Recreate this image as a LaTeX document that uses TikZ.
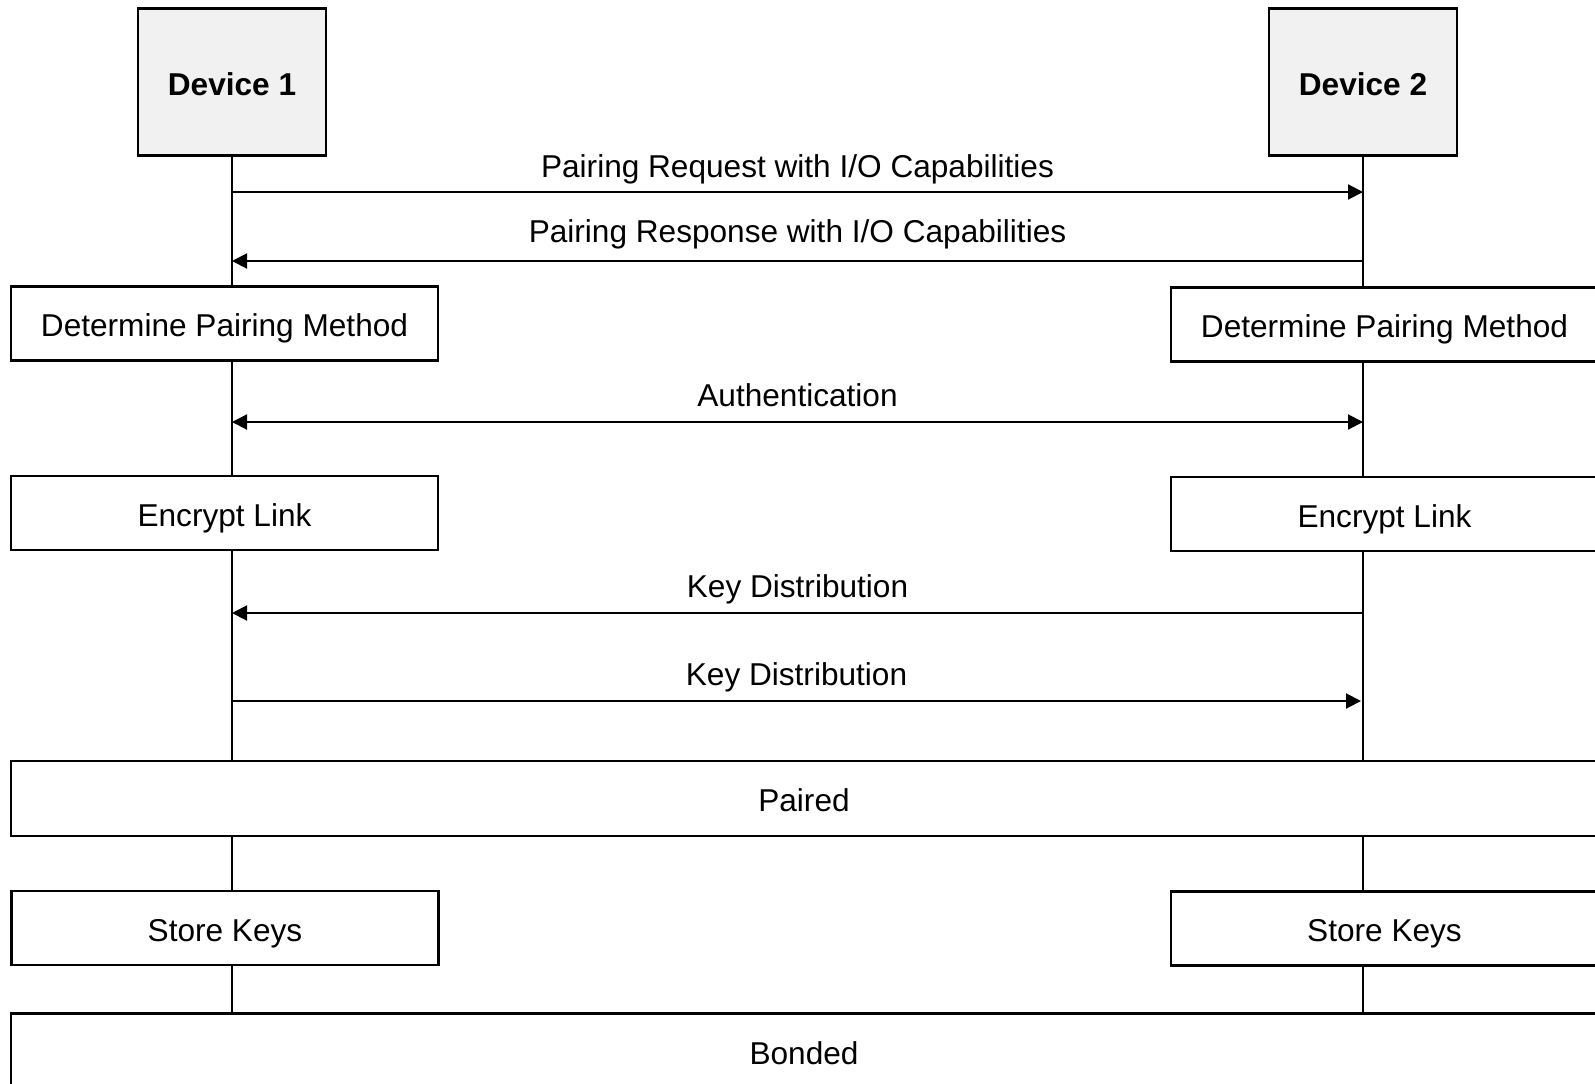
\documentclass[tikz,border=0pt]{standalone}
\usepackage{fontspec}
\setmainfont{Liberation Sans}
\usetikzlibrary{arrows.meta}

\newlength{\du}
\setlength{\du}{0.5pt}
\definecolor{devfill}{rgb}{0.945, 0.945, 0.945}

\tikzset{
  boxtext/.style={text height=13.2pt, text depth=0pt},
  devbox/.style={draw, fill=devfill, line width=1.2pt, minimum width=188\du, minimum height=147\du, boxtext, font=\fontsize{15.8}{19}\selectfont\bfseries},
  stepbox/.style={draw, fill=white, line width=1.2pt, minimum width=427\du, minimum height=74\du, boxtext},
  widebox/.style={draw, fill=white, line width=1.2pt, minimum width=1586\du, minimum height=75\du, boxtext},
  msglabel/.style={midway, above=1\du, text height=11.4pt, text depth=3.4pt},
  lifeline/.style={line width=0.9pt},
  msg/.style={line width=1.0pt, -{Triangle[length=7.5pt,width=7.5pt]}},
  msgboth/.style={line width=1.0pt, {Triangle[length=7.5pt,width=7.5pt]}-{Triangle[length=7.5pt,width=7.5pt]}}
}

\begin{document}
\begin{tikzpicture}[font=\fontsize{15.8}{19}\selectfont]
\pgftransformxscale{1.000000}
\pgftransformyscale{-1.000000}
\clip (0\du,0\du) rectangle (1595\du,1083\du);

% devices
\node[devbox] (dev1) at (232\du,82\du){Device 1};
\node[devbox] (dev2) at (1363\du,82\du){Device 2};

% left column
\node[stepbox] (methodL) at (224.5\du,323.5\du){Determine Pairing Method};
\node[stepbox] (encryptL) at (224.5\du,513\du){Encrypt Link};
\node[stepbox] (storeL) at (225\du,928\du){Store Keys};

% right column
\node[stepbox] (methodR) at (1384.5\du,324.5\du){Determine Pairing Method};
\node[stepbox] (encryptR) at (1384.5\du,514\du){Encrypt Link};
\node[stepbox] (storeR) at (1384.5\du,928.5\du){Store Keys};

% shared states
\node[widebox] (paired) at (804\du,798.5\du){Paired};
\node[widebox] (bonded) at (804\du,1051\du){Bonded};

% lifelines
\draw[lifeline] (dev1.south) -- (dev1.south |- methodL.north);
\draw[lifeline] (dev1.south |- methodL.south) -- (dev1.south |- encryptL.north);
\draw[lifeline] (dev1.south |- encryptL.south) -- (dev1.south |- paired.north);
\draw[lifeline] (dev1.south |- paired.south) -- (dev1.south |- storeL.north);
\draw[lifeline] (dev1.south |- storeL.south) -- (dev1.south |- bonded.north);
\draw[lifeline] (dev2.south) -- (dev2.south |- methodR.north);
\draw[lifeline] (dev2.south |- methodR.south) -- (dev2.south |- encryptR.north);
\draw[lifeline] (dev2.south |- encryptR.south) -- (dev2.south |- paired.north);
\draw[lifeline] (dev2.south |- paired.south) -- (dev2.south |- storeR.north);
\draw[lifeline] (dev2.south |- storeR.south) -- (dev2.south |- bonded.north);

% message ends
\coordinate (reqL) at (232\du,192\du);
\coordinate (reqR) at (1363\du,192\du);
\coordinate (rspL) at (232\du,261\du);
\coordinate (rspR) at (1363\du,261\du);
\coordinate (authL) at (232\du,422\du);
\coordinate (authR) at (1363\du,422\du);
\coordinate (keyaL) at (232\du,613\du);
\coordinate (keyaR) at (1363\du,613\du);
\coordinate (keybL) at (232\du,701\du);
\coordinate (keybR) at (1361\du,701\du);

% messages
\draw[msg] (reqL) -- (reqR) node[msglabel, above=-1\du]{Pairing Request with I/O Capabilities};
\draw[msg] (rspR) -- (rspL) node[msglabel, above=3\du]{Pairing Response with I/O Capabilities};
\draw[msgboth] (authL) -- (authR) node[msglabel]{Authentication};
\draw[msg] (keyaR) -- (keyaL) node[msglabel]{Key Distribution};
\draw[msg] (keybL) -- (keybR) node[msglabel]{Key Distribution};
\end{tikzpicture}
\end{document}
